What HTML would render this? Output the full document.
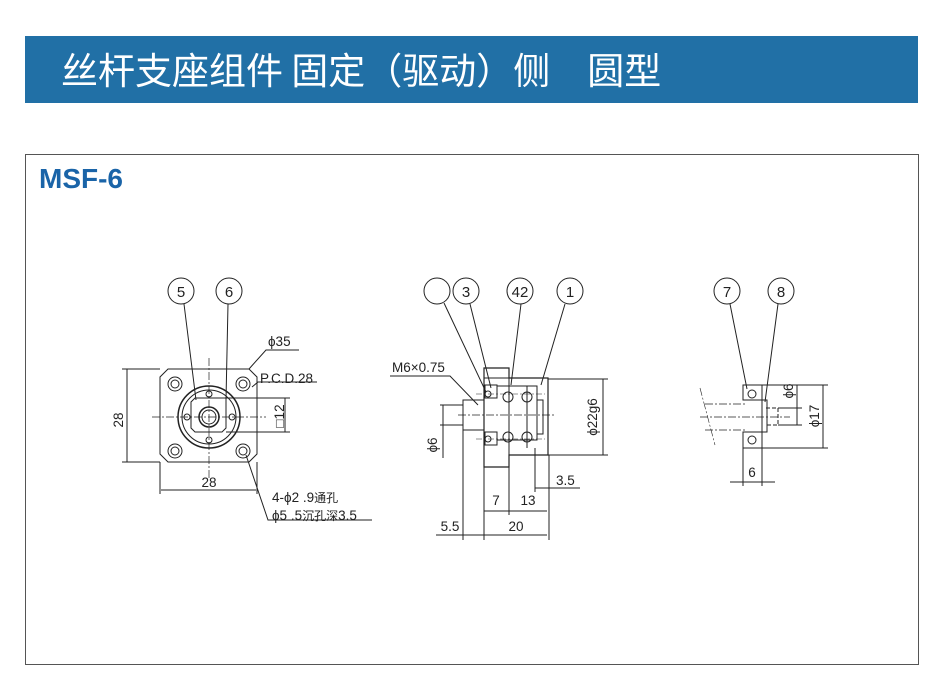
<!DOCTYPE html>
<html><head><meta charset="utf-8"><style>
body{margin:0;width:945px;height:681px;background:#fff;overflow:hidden;position:relative;font-family:"Liberation Sans","Noto Sans CJK SC",sans-serif}
.hdr{position:absolute;left:25px;top:36px;width:893px;height:67px;background:#2170a6;color:#fff;font-size:37px;line-height:64px;}
.hdr span{position:absolute;left:36px;top:0;white-space:pre;font-family:"Noto Sans CJK SC","WenQuanYi Zen Hei",sans-serif;font-weight:400}
.frame{position:absolute;left:25px;top:154px;width:892px;height:509px;border:1px solid #555}
.t{position:absolute;left:39px;top:163px;font-size:28px;font-weight:bold;color:#1a64a8}
svg{position:absolute;left:0;top:0}
</style></head><body>
<div class="hdr"><span>丝杆支座组件 固定（驱动）侧　圆型</span></div>
<div class="frame"></div>
<div class="t">MSF-6</div>
<svg width="945" height="681" viewBox="0 0 945 681" font-family="Liberation Sans, Noto Sans CJK SC, sans-serif" font-size="13.5" fill="none" stroke="#222" stroke-width="1">
<g>
<polygon points="168,369 249,369 257,377 257,454 249,462 168,462 160,454 160,377"/>
<circle cx="209" cy="417" r="31" stroke-width="1.5"/>
<circle cx="209" cy="417" r="27"/>
<polygon points="195,398 226,398 226,428 222,432 195,432 191,428 191,402"/>
<circle cx="209" cy="417" r="10" stroke-width="1.5"/>
<circle cx="209" cy="417" r="7"/>
<g stroke-width="1">
<circle cx="175" cy="384" r="7"/><circle cx="175" cy="384" r="4"/>
<circle cx="243" cy="384" r="7"/><circle cx="243" cy="384" r="4"/>
<circle cx="175" cy="451" r="7"/><circle cx="175" cy="451" r="4"/>
<circle cx="243" cy="451" r="7"/><circle cx="243" cy="451" r="4"/>
<circle cx="209" cy="394" r="3"/><circle cx="209" cy="440" r="3"/>
<circle cx="187" cy="417" r="3"/><circle cx="232" cy="417" r="3"/>
</g>
<path d="M209,358V478M152,417H266" stroke-dasharray="8,2,2,2" stroke-width="0.7"/>
<path d="M160,369H122M160,462H122M127,369V462M160,462V494M257,462V494M161,490H256M226,398H290M226,432H290M285,398V432"/>
<text x="123" y="420" fill="#222" stroke="none" transform="rotate(-90 123 420)" text-anchor="middle">28</text>
<text x="209" y="487" fill="#222" stroke="none" text-anchor="middle">28</text>
<text x="284" y="416" fill="#222" stroke="none" transform="rotate(-90 284 416)" text-anchor="middle">□12</text>
<path d="M249,369L266,350H299"/><text x="268" y="346" fill="#222" stroke="none">ϕ35</text>
<path d="M252,387L258,382H317"/><text x="260" y="383" fill="#222" stroke="none">P.C.D.28</text>
<path d="M246,455L268,520H372"/>
<text x="272" y="502" fill="#222" stroke="none">4-ϕ2 .9<tspan font-size="12">通孔</tspan></text>
<text x="272" y="520" fill="#222" stroke="none">ϕ5 .5<tspan font-size="12">沉孔深</tspan>3.5</text>
<circle cx="181" cy="291" r="13"/><text x="181" y="297" fill="#222" stroke="none" font-size="15" text-anchor="middle">5</text>
<circle cx="229" cy="291" r="13"/><text x="229" y="297" fill="#222" stroke="none" font-size="15" text-anchor="middle">6</text>
<path d="M184,304L196,400M228,304L226,400"/>
</g>
<g>
<path d="M484,378V467H509V455H548V378H509V368H484Z" stroke-width="1.2"/>
<path d="M484,378H509M509,378V455"/>
<rect x="463" y="400" width="21" height="30"/>
<rect x="485" y="385" width="12" height="13"/><rect x="485" y="432" width="12" height="13"/>
<path d="M497,386H537V440H497M509,386V448M527,386V448M537,400H543V434H537"/>
<circle cx="508" cy="397" r="5"/><circle cx="527" cy="397" r="5"/>
<circle cx="508" cy="437" r="5"/><circle cx="527" cy="437" r="5"/>
<circle cx="488" cy="394" r="3"/><circle cx="488" cy="439" r="3"/>
<path d="M458,415H556" stroke-dasharray="8,2,2,2" stroke-width="0.7"/>
<path d="M476,394H545M476,439H545" stroke-dasharray="6,2,2,2" stroke-width="0.6"/>
<path d="M390,376H450L478,405"/><text x="392" y="372" fill="#222" stroke="none">M6×0.75</text>
<path d="M440,405H463M440,425H463M443,405V458"/>
<text x="437" y="445" fill="#222" stroke="none" transform="rotate(-90 437 445)" text-anchor="middle">ϕ6</text>
<path d="M548,379H608M548,455H608M603,379V455"/>
<text x="597" y="417" fill="#222" stroke="none" transform="rotate(-90 597 417)" text-anchor="middle">ϕ22g6</text>
<path d="M535,448V492M549,455V540M535,488H580"/><text x="556" y="485" fill="#222" stroke="none">3.5</text>
<path d="M484,467V540M509,455V515M484,511H547"/>
<text x="496" y="505" fill="#222" stroke="none" text-anchor="middle">7</text>
<text x="528" y="505" fill="#222" stroke="none" text-anchor="middle">13</text>
<path d="M463,430V540M436,535H547"/>
<text x="450" y="531" fill="#222" stroke="none" text-anchor="middle">5.5</text>
<text x="516" y="531" fill="#222" stroke="none" text-anchor="middle">20</text>
<circle cx="437" cy="291" r="13"/>
<circle cx="466" cy="291" r="13"/><text x="466" y="297" fill="#222" stroke="none" font-size="15" text-anchor="middle">3</text>
<circle cx="520" cy="291" r="13"/><text x="520" y="297" fill="#222" stroke="none" font-size="15" text-anchor="middle">42</text>
<circle cx="570" cy="291" r="13"/><text x="570" y="297" fill="#222" stroke="none" font-size="15" text-anchor="middle">1</text>
<path d="M444,303L486,392M470,304L491,388M521,304L511,385M565,304L541,385"/>
</g>
<g>
<rect x="743" y="385" width="19" height="15"/><rect x="743" y="432" width="19" height="16"/>
<circle cx="752" cy="394" r="4"/><circle cx="752" cy="440" r="4"/>
<path d="M762,400V432M762,400H767V432H762"/>
<path d="M766,408H778V425H766" stroke-dasharray="4,2"/>
<path d="M705,404H745M705,430H745" stroke-dasharray="8,2,2,2" stroke-width="0.7"/>
<path d="M700,417H790" stroke-dasharray="8,2,2,2" stroke-width="0.7"/>
<path d="M700,388L715,445" stroke-dasharray="8,2,2,2" stroke-width="0.6"/>
<path d="M762,385H828M762,448H828M823,385V448M778,408H802M778,425H802M797,385V425"/>
<text x="793" y="391" fill="#222" stroke="none" transform="rotate(-90 793 391)" text-anchor="middle">ϕ6</text>
<text x="819" y="416" fill="#222" stroke="none" transform="rotate(-90 819 416)" text-anchor="middle">ϕ17</text>
<path d="M743,448V486M762,448V486M730,482H775"/>
<text x="752" y="477" fill="#222" stroke="none" text-anchor="middle">6</text>
<circle cx="727" cy="291" r="13"/><text x="727" y="297" fill="#222" stroke="none" font-size="15" text-anchor="middle">7</text>
<circle cx="781" cy="291" r="13"/><text x="781" y="297" fill="#222" stroke="none" font-size="15" text-anchor="middle">8</text>
<path d="M730,304L747,389M778,304L765,402"/>
</g>
</svg>
</body></html>
